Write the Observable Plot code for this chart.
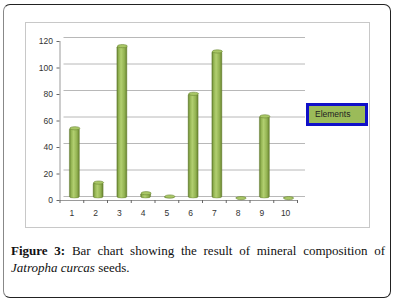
<!DOCTYPE html>
<html>
<head>
<meta charset="utf-8">
<script src="https://cdn.jsdelivr.net/npm/d3@7"></script>
<script src="https://cdn.jsdelivr.net/npm/@observablehq/plot@0.6"></script>
<style>
  html, body { margin: 0; padding: 0; background: #fff; width: 396px; height: 303px; overflow: hidden; }
  #outer { position: absolute; left: 3px; top: 4px; width: 386px; height: 292px;
           border: 1.5px solid #222; border-left-color: #888; border-radius: 7px; }
  #inner { position: absolute; left: 25px; top: 22px; width: 343px; height: 204px; border: 1px solid #c8c8c8; }
  #chart { position: absolute; left: 0; top: 0; }
  #legend { position: absolute; left: 306px; top: 103px; width: 56px; height: 17px;
            border: 3px solid #1010c8; background: #9bbb59; font: 8.5px "Liberation Sans", Arial, sans-serif;
            color: #222; line-height: 17px; padding-left: 6px; box-sizing: content-box; width: 50px; }
  #caption { position: absolute; left: 11px; top: 243px; width: 374px; font: 13px "Liberation Serif", "DejaVu Serif", serif;
             line-height: 16.5px; text-align: justify; color: #111; }
</style>
</head>
<body>
<div id="outer"></div>
<div id="inner"></div>
<div id="chart"></div>
<div id="legend">Elements</div>
<div id="caption"><b>Figure 3:</b> Bar chart showing the result of mineral composition of <i>Jatropha curcas</i> seeds.</div>
<script>
const categories = [1, 2, 3, 4, 5, 6, 7, 8, 9, 10];
const values = [53, 12, 115, 4, 1.5, 79, 111, 0.3, 62, 0.3];
const yTicks = [0, 20, 40, 60, 80, 100, 120];
const seriesName = "Elements";

const data = categories.map((c, i) => ({cat: c, value: values[i]}));
const boundaries = d3.range(0.5, categories.length + 1, 1);

function gradientDefs() {
  const ns = "http://www.w3.org/2000/svg";
  const defs = document.createElementNS(ns, "defs");
  const g = document.createElementNS(ns, "linearGradient");
  g.setAttribute("id", "cyl");
  g.setAttribute("x1", "0"); g.setAttribute("x2", "1"); g.setAttribute("y1", "0"); g.setAttribute("y2", "0");
  [[0, "#627d2c"], [0.18, "#93b452"], [0.42, "#b2cf70"], [0.75, "#93b352"], [1, "#67822f"]].forEach(([o, c]) => {
    const s = document.createElementNS(ns, "stop");
    s.setAttribute("offset", o); s.setAttribute("stop-color", c);
    g.appendChild(s);
  });
  defs.appendChild(g);
  return defs;
}

const ellipseTop = {
  draw(context, size) {
    const rx = 5, ry = 1.6, k = 0.5523;
    context.moveTo(-rx, 0);
    context.bezierCurveTo(-rx, -ry * k, -rx * k, -ry, 0, -ry);
    context.bezierCurveTo(rx * k, -ry, rx, -ry * k, rx, 0);
    context.bezierCurveTo(rx, ry * k, rx * k, ry, 0, ry);
    context.bezierCurveTo(-rx * k, ry, -rx, ry * k, -rx, 0);
    context.closePath();
  }
};

const chart = Plot.plot({
  width: 396,
  height: 232,
  marginLeft: 59.5,
  marginRight: 99,
  marginTop: 41,
  marginBottom: 32,
  style: {fontFamily: "'Liberation Sans', Arial, sans-serif", fontSize: "8.5px", color: "#333", background: "transparent"},
  x: {type: "linear", domain: [0.5, categories.length + 0.5]},
  y: {domain: [0, 120]},
  marks: [
    gradientDefs,
    Plot.ruleY(yTicks, {dx: 4, dy: -4, insetRight: -4, stroke: "#b8b8b8", strokeWidth: 1}),
    Plot.ruleY([0], {stroke: "#9a9a9a"}),
    Plot.ruleX([0.5], {stroke: "#9a9a9a"}),
    Plot.axisY({ticks: yTicks, tickSize: 3, tickPadding: 4, label: null, stroke: "#666"}),
    Plot.axisX({ticks: boundaries, tickSize: 3, tickFormat: () => "", label: null, stroke: "#666"}),
    Plot.axisX({ticks: categories, tickSize: 0, tickPadding: 9, label: null, tickFormat: d3.format("d")}),
    Plot.rectY(data, {x1: d => d.cat - 0.21, x2: d => d.cat + 0.21, y1: 0, y2: "value", dx: 3, dy: -2,
      fill: "url(#cyl)", rx: 5, ry: 1.6, stroke: "#5f7a2a", strokeWidth: 0.4}),
    Plot.dot(data, {x: "cat", y: "value", dx: 3, dy: -2, symbol: ellipseTop, r: 3,
      fill: "#a9c766", stroke: "#6a8632", strokeWidth: 0.6})
  ]
});
document.getElementById("chart").appendChild(chart);
</script>
</body>
</html>
